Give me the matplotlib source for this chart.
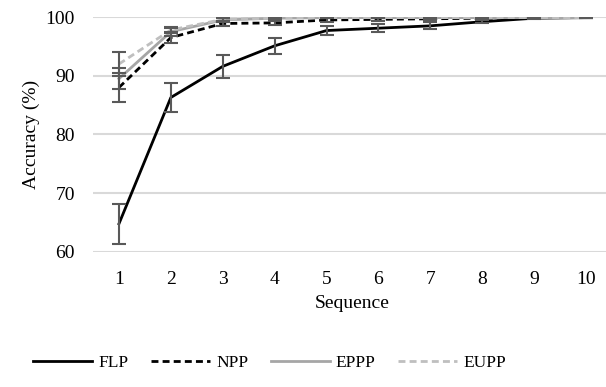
import numpy as np
import matplotlib
matplotlib.use("Agg")
import matplotlib.pyplot as plt

plt.rcParams['font.family'] = ['Liberation Serif', 'DejaVu Serif']

seq = [1, 2, 3, 4, 5, 6, 7, 8, 9, 10]
flp = [64.8, 86.3, 91.6, 95.1, 97.7, 98.1, 98.5, 99.2, 99.8, 99.9]
flp_err = [3.4, 2.5, 2.0, 1.4, 0.8, 0.7, 0.6, 0.3, 0.1, 0.1]
npp = [88.0, 96.5, 98.9, 99.0, 99.5, 99.6, 99.7, 99.8, 99.9, 99.9]
npp_err = [2.5, 1.0, 0.4, 0.4, 0.3, 0.2, 0.2, 0.1, 0.1, 0.1]
eppp = [89.5, 97.5, 99.5, 99.8, 99.9, 99.9, 99.9, 99.9, 99.9, 99.9]
eppp_err = [1.8, 0.7, 0.3, 0.2, 0.1, 0.1, 0.1, 0.1, 0.1, 0.1]
eupp = [92.0, 97.8, 99.6, 99.8, 99.9, 99.9, 99.9, 99.9, 99.9, 99.9]
eupp_err = [2.0, 0.5, 0.3, 0.2, 0.1, 0.1, 0.1, 0.1, 0.1, 0.1]
yticks = [60, 70, 80, 90, 100]

fig = plt.figure(figsize=(6.06, 3.87), dpi=100)
# plot area runs a little past the right edge, as in the source image
ax = fig.add_axes([0.1535, 0.349, 0.8564, 0.607])

series = [
    ("FLP", flp, flp_err, "black", "-"),
    ("NPP", npp, npp_err, "black", (0, (2.5, 1.5))),
    ("EPPP", eppp, eppp_err, "#A6A6A6", "-"),
    ("EUPP", eupp, eupp_err, "#BFBFBF", (0, (2.5, 1.5))),
]
x = np.arange(len(seq))
for name, vals, err, col, ls in series:
    ax.plot(x, vals, color=col, linestyle=ls, lw=2, label=name, zorder=3)
for name, vals, err, col, ls in series:
    ax.errorbar(x, vals, yerr=err, fmt='none', ecolor="#595959", elinewidth=1.5,
                capsize=5, capthick=1.5, zorder=4)

ax.set_xlim(-0.5, len(seq) - 0.5)
ax.set_ylim(60, 100)
ax.set_yticks(yticks)
ax.set_xticks(x)
ax.set_xticklabels([str(s) for s in seq])
ax.yaxis.grid(True, color="#D9D9D9", lw=1.5)
ax.set_axisbelow(True)
for sp in ax.spines.values():
    sp.set_visible(False)
ax.tick_params(length=0, labelsize=14)
ax.tick_params(axis='x', pad=14)
ax.tick_params(axis='y', pad=13)
ax.set_xlabel("Sequence", fontsize=14, labelpad=5)
ax.set_ylabel("Accuracy (%)", fontsize=14, labelpad=4)

fig.legend(*ax.get_legend_handles_labels(), loc="center", bbox_to_anchor=(0.445, 0.062),
           ncol=4, frameon=False, fontsize=12.5, handlelength=3.4, columnspacing=1.3,
           handletextpad=0.35)

fig.savefig("out.png", dpi=100)
